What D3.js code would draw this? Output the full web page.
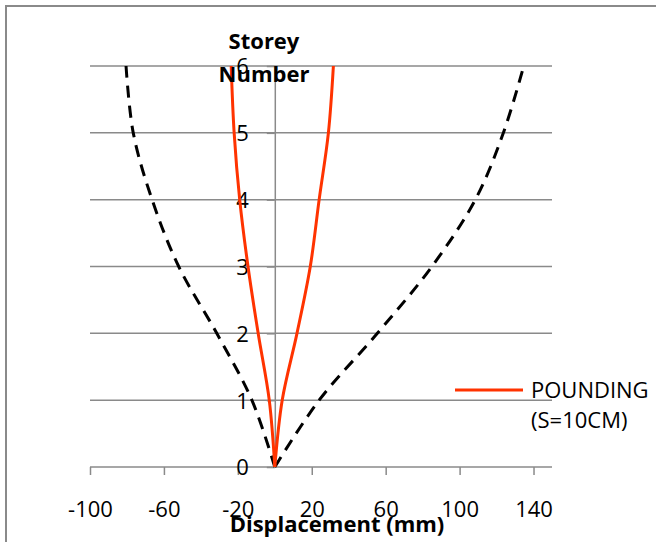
<!DOCTYPE html>
<html>
<head>
<meta charset="utf-8">
<script src="https://cdn.jsdelivr.net/npm/d3@7"></script>
<style>
  html, body { margin: 0; padding: 0; background: #fff; }
  svg { display: block; }
  text { font-family: "Open Sans", "Noto Sans", sans-serif; fill: #000; }
</style>
</head>
<body>
<svg id="chart" width="656" height="542"></svg>
<script>
// Storey levels (y) and displacement readings (mm) for each side of the building
const storeys = [0, 1, 2, 3, 4, 5, 6];
const poundingLeft  = [0, -3, -9, -14.5, -19, -22, -23.6];
const poundingRight = [0, 4, 12, 19.2, 24, 29, 31.7];
const noPoundingLeft  = [0, -12.4, -31.4, -52, -66.4, -76.6, -80.5];
const noPoundingRight = [0, 24, 55.5, 85, 108.5, 123.7, 134.7];

const xTicks = [-100, -60, -20, 20, 60, 100, 140];
const yTicks = [0, 1, 2, 3, 4, 5, 6];
const xTitle = "Displacement (mm)";
const yTitle = ["Storey", "Number"];
const legendLabel = ["POUNDING", "(S=10CM)"];

const RED = "#ff3300";
const GRID = "#8a8a8a";

const svg = d3.select("#chart");

// outer frame
svg.append("rect")
  .attr("x", 6).attr("y", 6)
  .attr("width", 700).attr("height", 600)
  .attr("fill", "none").attr("stroke", GRID).attr("stroke-width", 2);

const x = d3.scaleLinear().domain([-100, 150]).range([90, 552]);
const y = d3.scaleLinear().domain([0, 6]).range([467, 66]);

// plain hyphen for negatives
const fmt = d => String(d);

// horizontal gridlines
svg.append("g").selectAll("line")
  .data(yTicks.filter(d => d > 0))
  .join("line")
  .attr("x1", x(-100)).attr("x2", x(150))
  .attr("y1", d => y(d)).attr("y2", d => y(d))
  .attr("stroke", GRID).attr("stroke-width", 1.5);

// x axis
const xAxis = svg.append("g")
  .attr("transform", `translate(0,${y(0)})`)
  .call(d3.axisBottom(x).tickValues(xTicks).tickSize(8).tickPadding(27).tickSizeOuter(0).tickFormat(fmt));
xAxis.select(".domain").attr("stroke", GRID).attr("stroke-width", 1.5)
  .attr("d", `M${x(-100)},0H${x(150)}`);
xAxis.selectAll(".tick line").attr("stroke", GRID).attr("stroke-width", 1.5);
xAxis.selectAll(".tick text")
  .style("font-family", '"Open Sans", sans-serif')
  .style("font-size", "22px").attr("fill", "#000")
  .attr("dy", "0.68em");

// y axis (drawn at x = 0)
const yAxis = svg.append("g")
  .attr("transform", `translate(${x(0)},0)`)
  .call(d3.axisLeft(y).tickValues(yTicks).tickSize(8).tickPadding(18).tickSizeOuter(0).tickFormat(fmt));
yAxis.select(".domain").attr("stroke", GRID).attr("stroke-width", 1.5);
yAxis.selectAll(".tick line").attr("stroke", GRID).attr("stroke-width", 1.5);
yAxis.selectAll(".tick text")
  .style("font-family", '"Open Sans", sans-serif')
  .style("font-size", "22px").attr("fill", "#000")
  .attr("dy", "0.36em");

// series
const line = d3.line()
  .x(d => x(d[0])).y(d => y(d[1]))
  .curve(d3.curveCatmullRom.alpha(0.5));
const pts = vals => vals.map((v, i) => [v, storeys[i]]);

const series = [
  { vals: noPoundingLeft,  color: "#000", dash: "12,8" },
  { vals: noPoundingRight, color: "#000", dash: "12,8" },
  { vals: poundingLeft,    color: RED,    dash: null },
  { vals: poundingRight,   color: RED,    dash: null }
];
svg.append("g").selectAll("path")
  .data(series)
  .join("path")
  .attr("d", d => line(pts(d.vals)))
  .attr("fill", "none")
  .attr("stroke", d => d.color)
  .attr("stroke-width", 3)
  .attr("stroke-dasharray", d => d.dash);

// axis titles
svg.append("text")
  .attr("x", 337).attr("y", 532)
  .attr("text-anchor", "middle")
  .style("font-size", "22px").style("font-weight", "bold")
  .text(xTitle);

svg.append("text")
  .attr("x", 264).attr("y", 49)
  .attr("text-anchor", "middle")
  .style("font-size", "22px").style("font-weight", "bold")
  .selectAll("tspan")
  .data(yTitle)
  .join("tspan")
  .attr("x", 264)
  .attr("dy", (d, i) => i === 0 ? 0 : 33)
  .text(d => d);

// legend
const legend = svg.append("g");
legend.append("line")
  .attr("x1", 455).attr("x2", 523)
  .attr("y1", 390).attr("y2", 390)
  .attr("stroke", RED).attr("stroke-width", 3);
legend.append("text")
  .attr("x", 531).attr("y", 398)
  .style("font-size", "22px")
  .selectAll("tspan")
  .data(legendLabel)
  .join("tspan")
  .attr("x", 531)
  .attr("dy", (d, i) => i === 0 ? 0 : 30)
  .text(d => d);
</script>
</body>
</html>
